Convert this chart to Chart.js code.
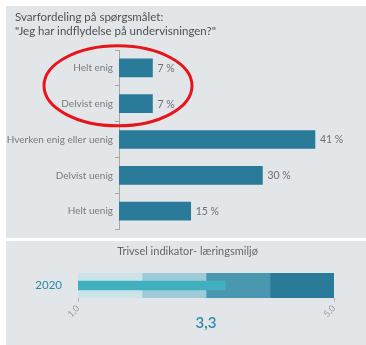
<!DOCTYPE html>
<html>
<head>
<meta charset="utf-8">
<script src="https://cdn.jsdelivr.net/npm/chart.js@4.4.1/dist/chart.umd.min.js"></script>
<style>
  html, body { margin: 0; padding: 0; background: #ffffff; }
  body { width: 366px; height: 345px; position: relative; overflow: hidden; font-family: Lato, "Open Sans", sans-serif; }
  .panel { position: absolute; background: #e3e6e9; }
  #top-panel { left: 6px; top: 6px; width: 360px; height: 232px; }
  #bottom-panel { left: 6px; top: 241px; width: 360px; height: 104px; }
  canvas { display: block; position: absolute; left: 0; top: 0; }
  .heading { position: absolute; white-space: nowrap; z-index: 1; }
  #top-heading { left: 9px; top: 4px; font-size: 11.5px; line-height: 14px; color: #505050; }
  #bottom-heading { left: 0; width: 363px; top: 3px; text-align: center; font-size: 11px; line-height: 13px; color: #666666; }
</style>
</head>
<body>
<div class="panel" id="top-panel">
  <div class="heading" id="top-heading">Svarfordeling på spørgsmålet:<br>"Jeg har indflydelse på undervisningen?"</div>
  <canvas id="answers-chart" width="360" height="232"></canvas>
</div>
<div class="panel" id="bottom-panel">
  <div class="heading" id="bottom-heading">Trivsel indikator- læringsmiljø</div>
  <canvas id="indicator-chart" width="360" height="104"></canvas>
</div>
<script>
// answer distribution
const answerLabels = ['Helt enig', 'Delvist enig', 'Hverken enig eller uenig', 'Delvist uenig', 'Helt uenig'];
const answerPercent = [7, 7, 41, 30, 15];

// wellbeing indicator (scale 1-5)
const indicatorYears = ['2020'];
const indicatorValues = [3.3];
const bandEdges = [1, 2, 3, 4, 5];
const bandColors = ['#cde3ea', '#9ecbd8', '#4a98b0', '#2a7a9a'];

const FONT = 'Lato, "Open Sans", sans-serif';
const fmtComma = v => Number(v).toFixed(1).replace('.', ',');

// prints "n %" just past the end of every bar
const valueLabels = {
    id: 'valueLabels',
    afterDatasetsDraw(chart) {
        const ctx = chart.ctx;
        const meta = chart.getDatasetMeta(0);
        ctx.save();
        ctx.font = '10.5px ' + FONT;
        ctx.fillStyle = '#6f6f6f';
        ctx.textAlign = 'left';
        ctx.textBaseline = 'middle';
        meta.data.forEach((bar, i) => {
            ctx.fillText(answerPercent[i] + ' %', bar.x + 5, bar.y + 0.5);
        });
        ctx.restore();
    }
};

// red ring around the two "enig" rows
const highlightRing = {
    id: 'highlightRing',
    afterDraw(chart, args, opts) {
        const ctx = chart.ctx;
        const y = chart.scales.y;
        const cy = (y.getPixelForValue(0) + y.getPixelForValue(1)) / 2;
        const cx = chart.chartArea.left - 1;
        ctx.save();
        ctx.strokeStyle = opts.color;
        ctx.lineWidth = opts.width;
        ctx.beginPath();
        ctx.ellipse(cx, cy, opts.rx, opts.ry, 0, 0, Math.PI * 2);
        ctx.stroke();
        ctx.restore();
    }
};

new Chart(document.getElementById('answers-chart'), {
    type: 'bar',
    data: {
        labels: answerLabels,
        datasets: [{
            data: answerPercent,
            backgroundColor: '#2a7a9a',
            barThickness: 18
        }]
    },
    options: {
        indexAxis: 'y',
        responsive: false,
        animation: false,
        layout: { padding: { left: 0, right: 8, top: 44, bottom: 9 } },
        plugins: {
            legend: { display: false },
            tooltip: { enabled: false },
            highlightRing: { color: '#e8141c', width: 3, rx: 74, ry: 40 }
        },
        scales: {
            x: { display: false, min: 0, max: 50 },
            y: {
                grid: { drawOnChartArea: false, drawTicks: true, tickLength: 4, color: '#a8a8a8' },
                border: { display: true, color: '#a8a8a8' },
                ticks: { color: '#7a7a7a', padding: 2, font: { family: FONT, size: 10 } },
                afterFit(scale) { scale.width = 113; }
            }
        }
    },
    plugins: [valueLabels, highlightRing]
});

// bullet chart: the value bar sits on top of four shaded bands
const bandSets = bandColors.map((color, i) => ({
    data: [[bandEdges[i], bandEdges[i + 1]]],
    backgroundColor: color,
    barThickness: 25,
    grouped: false
}));

new Chart(document.getElementById('indicator-chart'), {
    type: 'bar',
    data: {
        labels: indicatorYears,
        datasets: [{
            data: indicatorValues.map(v => [bandEdges[0], v]),
            backgroundColor: '#40b0be',
            barThickness: 9,
            grouped: false
        }].concat(bandSets)
    },
    options: {
        indexAxis: 'y',
        responsive: false,
        animation: false,
        layout: { padding: { left: 0, right: 32, top: 32, bottom: 0 } },
        plugins: {
            legend: { display: false },
            tooltip: { enabled: false }
        },
        scales: {
            x: {
                min: bandEdges[0],
                max: bandEdges[bandEdges.length - 1],
                grid: { drawOnChartArea: false, drawTicks: true, tickLength: 4, color: '#b5b5b5' },
                border: { display: false },
                ticks: {
                    stepSize: 4,
                    minRotation: 45,
                    maxRotation: 45,
                    padding: 1,
                    color: '#9a9a9a',
                    font: { family: FONT, size: 9 },
                    callback: v => fmtComma(v)
                },
                title: {
                    display: true,
                    text: fmtComma(indicatorValues[0]),
                    color: '#2a8aab',
                    font: { family: FONT, size: 15, weight: '600', lineHeight: '18px' },
                    padding: { top: 0, bottom: 13 }
                },
                afterFit(scale) { scale.height = 47; }
            },
            y: {
                grid: { display: false, drawTicks: false },
                border: { display: false },
                ticks: { color: '#2a8aab', padding: 16, font: { family: FONT, size: 11.5 } },
                afterFit(scale) { scale.width = 72; }
            }
        }
    }
});
</script>
</body>
</html>
